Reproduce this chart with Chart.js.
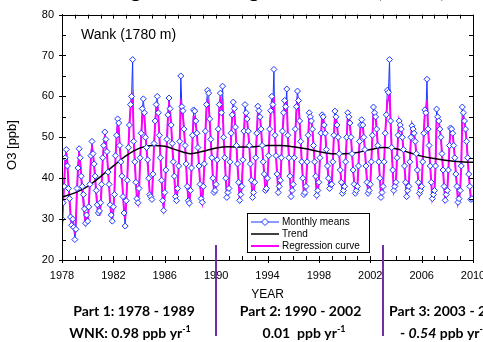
<!DOCTYPE html>
<html><head><meta charset="utf-8">
<script src="https://cdn.jsdelivr.net/npm/chart.js@4.4.0/dist/chart.umd.min.js"></script>
<style>html,body{margin:0;padding:0;background:#fff;overflow:hidden}canvas{display:block}</style>
</head><body>
<canvas id="c" width="483" height="342"></canvas>
<script>
// ---------------- data ----------------
const years = [1978,1979,1980,1981,1982,1983,1984,1985,1986,1987,1988,1989,1990,1991,1992,1993,1994,1995,1996,1997,1998,1999,2000,2001,2002,2003,2004,2005,2006,2007,2008,2009];
// monthly means (Jan..Dec), ppb
const monthlyMeans = [
 [30,34,38,45,47,43,37.5,35,30.5,28.5,30,28],
 [25,27.5,37.5,42.5,47.2,45,40.5,38,36,32.5,29,31],
 [29.5,33,38.5,45.5,49,46,43.5,40.5,37,33.5,31.5,32],
 [34,38.5,45,48,51.3,49.5,46.5,41.5,38.5,33.5,31,29.5],
 [33,36,45.5,50.5,54.5,53.5,48,44,40.5,35.5,31.5,28.3],
 [34.5,39.5,47.5,53,58,60,69,49,44,39,35,34],
 [37.5,45,51,57,59.4,56,50,47.5,44.5,40,36,35.5],
 [34.8,41,48.5,54,58,60,56,50.5,45,39.5,34.5,32.1],
 [36.5,42,49.5,55.5,59.6,57,53,48.5,44,40.5,35.5,34.5],
 [37.5,43,49,65,57.5,56.5,52,48,43.5,38,34.5,33.9],
 [37,42.5,50.5,56.7,56.4,54,51,47.5,43,38.5,35,34.1],
 [38,43.5,51.5,58,61.5,60.8,54.5,49.5,45,40,36.5,37],
 [38.5,44.5,52,58,60.8,56,62.5,50,45,40,35.3,36.5],
 [37.5,44,51,55.5,58.6,57,52.5,48,43.5,39,34.6,36],
 [38,44.5,51.5,58,56,54.5,51.5,48,43.5,39.5,35.3,36.5],
 [39,45,51,57.6,56.5,55,52,48,44,41,37,37.5],
 [40,45.5,52,56.5,60,58,66.6,50.5,45.5,41,36.5,38],
 [39.5,45,51.5,56,59,57.5,61.8,50.5,45,40.5,35.5,37],
 [38.5,45,52,57.5,61.3,59,54,49,44,40,36,36.5],
 [38,44,50.5,56,55,54,52,48,44,40.5,35.8,37],
 [39,45,51,55.5,55,53,51,47,43,40,37.5,38.5],
 [38.5,44,50.5,56.4,55,53,50,46,42,39,36.3,37],
 [38,44,50,56,55,53.5,50,46,42,38.5,36.3,37],
 [38,43,49,53,54.3,53,50,47,43,39,36.3,37],
 [38.5,44,50.5,57.4,56,55,52,48,44,40,35.3,36.5],
 [38,44,51,55.5,61.5,61,69,54,47.5,42,37,38],
 [39,45,50.5,54,53,52,50,47,43,39,35.5,37],
 [38,44,50,52.8,52,51,49,46,42,39,36.3,37],
 [38,44,51,56.7,56,64.2,52,48,43,39,35,36],
 [37,43,56.9,55,54,52,50,46,42,38,34.6,36],
 [37,42,48,52.3,52,51,48,45,41,38,34.1,35],
 [37,43,57.4,56,54,52,49,45,41,38,34.8,35]
];
// regression curve (Jan..Dec), ppb
const regressionCurve = [
 [28,33,39,44,46,44,39,35,31,29,29,28],
 [27,30,37,43,46,44,40,37,34,31,29,30],
 [30,33,39,45,47.5,46,43,40,36,33,31,31],
 [33,38,44,48,50,49,46,42,38,34,31,30],
 [32,37,45,50,53,52,48,44,40,36,32,30],
 [34,40,47,53,57,59,60,50,44,39,35,34],
 [37,44,50,55,57,55,51,47,44,40,36,35],
 [35,41,48,53,57,58,55,50,45,40,35,33],
 [36,42,49,55,58,56,53,48,44,40,36,35],
 [37,43,49,58,57,55,52,48,43,38,35,34],
 [37,42,50,55,55,53,51,47,43,39,35,34],
 [38,43,51,57,59,58,54,49,45,40,37,37],
 [38,44,51,57,59,57,58,50,45,40,36,36],
 [38,44,50,55,57,56,52,48,43,39,35,36],
 [38,44,51,56,56,54,51,48,43,39,36,36],
 [39,45,51,56,56,55,52,48,44,41,37,37],
 [40,45,52,56,58,57,60,51,45,41,37,38],
 [39,45,51,55,58,57,59,50,45,40,36,37],
 [38,45,51,56,59,58,54,49,44,40,36,36],
 [38,44,50,55,55,54,52,48,44,40,36,37],
 [39,45,50,55,55,53,51,47,43,40,38,38],
 [38,44,50,55,55,53,50,46,42,39,37,37],
 [38,44,50,55,55,53,50,46,42,39,37,37],
 [38,43,49,53,54,53,50,47,43,39,37,37],
 [38,44,50,56,56,55,52,48,44,40,36,36],
 [38,44,51,55,59,59,61,54,47,42,37,38],
 [39,45,50,54,53,52,50,47,43,39,36,37],
 [38,44,50,53,52,51,49,46,42,39,36,37],
 [38,44,51,56,56,59,52,48,43,39,35,36],
 [37,43,54,55,54,52,50,46,42,38,35,36],
 [37,42,48,52,52,51,48,45,41,38,34,35],
 [37,43,54,55,54,52,49,45,41,38,35,35]
];
// smooth trend
const trendYears  = [1978,1979,1980,1981,1982,1983,1984,1985,1986,1987,1988,1989,1990,1991,1992,1993,1994,1995,1996,1997,1998,1999,2000,2001,2002,2003,2004,2005,2006,2007,2008,2009,2010];
const trendValues = [35.4,36.4,38.0,40.4,43.0,45.5,47.3,48.0,47.8,46.8,46.0,46.6,47.4,47.7,47.6,47.7,48.0,48.0,47.7,47.2,46.5,46.0,46.0,46.3,47.0,47.5,47.2,46.3,45.4,44.8,44.3,44.0,43.9];
const xTickLabels = [1978,1982,1986,1990,1994,1998,2002,2006,2010];
const yTickLabels = [20,30,40,50,60,70,80];
const breakYears = [1990,2003];

// ---------------- build series ----------------
const monthlyPts = [], regPts = [];
years.forEach((yr,i)=>{
  for(let m=0;m<12;m++){
    monthlyPts.push({x: yr + m/12, y: monthlyMeans[i][m]});
    regPts.push({x: yr + m/12, y: regressionCurve[i][m]});
  }
});
const trendPts = trendYears.map((x,i)=>({x, y: trendValues[i]}));

const BLUE='#1a35ff', MAG='#ff00ff', BLACK='#000000', PURPLE='#7030a0';
const SANS='"Liberation Sans", Arial, sans-serif';
const BOLD='Lato, "Open Sans", sans-serif';

function drawRuns(ctx, runs, x, y, align){
  // runs: [{t, italic, sup}]
  const base=14;
  const w = runs.reduce((s,r)=>{ctx.font=(r.italic?'italic ':'')+'bold '+(r.sup?9:base)+'px '+BOLD; return s+ctx.measureText(r.t).width;},0);
  let cx = align==='center' ? x - w/2 : x;
  runs.forEach(r=>{
    ctx.font=(r.italic?'italic ':'')+'bold '+(r.sup?9:base)+'px '+BOLD;
    ctx.textAlign='left'; ctx.textBaseline='alphabetic';
    ctx.fillText(r.t, cx, r.sup ? y-6 : y);
    cx += ctx.measureText(r.t).width;
  });
}

const deco = {
  id:'deco',
  afterDraw(chart){
    const ctx=chart.ctx, a=chart.chartArea, xs=chart.scales.x, ys=chart.scales.y;
    ctx.save();
    // frame
    ctx.strokeStyle='#000'; ctx.lineWidth=1;
    ctx.strokeRect(Math.round(a.left)+0.5, Math.round(a.top)+0.5, Math.round(a.right-a.left), Math.round(a.bottom-a.top));
    // x ticks
    ctx.beginPath();
    for(let yr=1978; yr<=2010; yr++){
      const px=Math.round(xs.getPixelForValue(yr))+0.5;
      const major = xTickLabels.includes(yr);
      ctx.moveTo(px, a.bottom - 4); ctx.lineTo(px, a.bottom + (major?3:0));
      ctx.moveTo(px, a.top); ctx.lineTo(px, a.top + 4);
    }
    for(let v=20; v<=80; v+=5){
      const py=Math.round(ys.getPixelForValue(v))+0.5;
      const major = yTickLabels.includes(v);
      ctx.moveTo(a.left - (major?3:0), py); ctx.lineTo(a.left+4, py);
      ctx.moveTo(a.right - 4, py); ctx.lineTo(a.right, py);
    }
    ctx.stroke();
    // texts
    ctx.fillStyle='#000';
    ctx.font='14px '+SANS; ctx.textAlign='left'; ctx.textBaseline='middle';
    ctx.fillText('Wank (1780 m)', 81, 35);
    ctx.font='12px '+SANS; ctx.textAlign='center';
    ctx.fillText('YEAR', (a.left+a.right)/2, 295);
    ctx.save(); ctx.translate(12.5,145); ctx.rotate(-Math.PI/2);
    ctx.font='13px '+SANS; ctx.fillText('O3 [ppb]',0,0); ctx.restore();
    // title (cut at top)
    ctx.font='bold 22px '+BOLD; ctx.textAlign='center'; ctx.textBaseline='alphabetic';
    ctx.fillText('Long-term changes of ozone (Wank)', 270, -3);
    // legend box
    ctx.fillStyle='#fff'; ctx.fillRect(247.5,213.5,122,39);
    ctx.strokeStyle='#000'; ctx.lineWidth=1; ctx.strokeRect(247.5,213.5,122,39);
    const items=[['Monthly means',BLUE,1,true],['Trend',BLACK,1.5,false],['Regression curve',MAG,2,false]];
    items.forEach((it,i)=>{
      const yy=222+i*12;
      ctx.strokeStyle=it[1]; ctx.lineWidth=it[2];
      ctx.beginPath(); ctx.moveTo(251,yy); ctx.lineTo(279,yy); ctx.stroke();
      if(it[3]){
        ctx.lineWidth=1; ctx.fillStyle='#fff';
        ctx.beginPath(); ctx.moveTo(265,yy-3.5); ctx.lineTo(268.5,yy); ctx.lineTo(265,yy+3.5); ctx.lineTo(261.5,yy); ctx.closePath(); ctx.fill(); ctx.stroke();
      }
      ctx.fillStyle='#000'; ctx.font='10px '+SANS; ctx.textAlign='left'; ctx.textBaseline='middle';
      ctx.fillText(it[0],282,yy+0.5);
    });
    // break lines
    ctx.strokeStyle=PURPLE; ctx.lineWidth=2;
    breakYears.forEach(yr=>{
      const px=Math.round(xs.getPixelForValue(yr));
      ctx.beginPath(); ctx.moveTo(px,245); ctx.lineTo(px,336); ctx.stroke();
    });
    // bottom annotations
    ctx.fillStyle='#000';
    drawRuns(ctx,[{t:'Part 1: 1978 - 1989'}],134,316,'center');
    drawRuns(ctx,[{t:'WNK: 0.98 ppb yr'},{t:'-1',sup:true}],130,338,'center');
    drawRuns(ctx,[{t:'Part 2: 1990 - 2002'}],300.5,316,'center');
    drawRuns(ctx,[{t:'0.01  ppb yr'},{t:'-1',sup:true}],304,338,'center');
    drawRuns(ctx,[{t:'Part 3: 2003 - 2010'}],389,316,'left');
    drawRuns(ctx,[{t:'- '},{t:'0.54',italic:true},{t:' ppb yr'},{t:'-1',sup:true}],400,338,'left');
    ctx.restore();
  }
};

new Chart(document.getElementById('c'),{
  type:'line',
  data:{datasets:[
    {label:'Monthly means (points)', data:monthlyPts, showLine:false, pointStyle:'rectRot', pointRadius:3, pointBorderWidth:1, pointBorderColor:BLUE, pointBackgroundColor:'#fff', order:0},
    {label:'Trend', data:trendPts, borderColor:BLACK, borderWidth:1.5, pointRadius:0, cubicInterpolationMode:'monotone', order:1},
    {label:'Regression curve', data:regPts, borderColor:MAG, borderWidth:2, pointRadius:0, tension:0, order:2},
    {label:'Monthly means', data:monthlyPts, borderColor:BLUE, borderWidth:1, pointRadius:0, tension:0, order:3}
  ]},
  options:{
    responsive:false, devicePixelRatio:1, animation:false,
    parsing:true,
    layout:{padding:{left:0,right:10,top:13,bottom:0}},
    plugins:{legend:{display:false}, tooltip:{enabled:false}},
    scales:{
      x:{type:'linear', min:1978, max:2010,
         afterFit(s){ s.height=82; s.paddingLeft=0; s.paddingRight=0; },
         afterBuildTicks(s){ s.ticks = xTickLabels.map(v=>({value:v})); },
         ticks:{callback:v=>String(v), autoSkip:false, maxRotation:0, padding:9, color:'#000', font:{family:SANS,size:11}},
         grid:{display:false, drawTicks:false}, border:{display:true,color:'#000',width:1}},
      y:{type:'linear', min:20, max:80,
         afterFit(s){ s.width=62; },
         afterBuildTicks(s){ s.ticks = yTickLabels.map(v=>({value:v})); },
         ticks:{padding:8, color:'#000', font:{family:SANS,size:11}},
         grid:{display:false, drawTicks:false}, border:{display:true,color:'#000',width:1}}
    }
  },
  plugins:[deco]
});
</script></body></html>
